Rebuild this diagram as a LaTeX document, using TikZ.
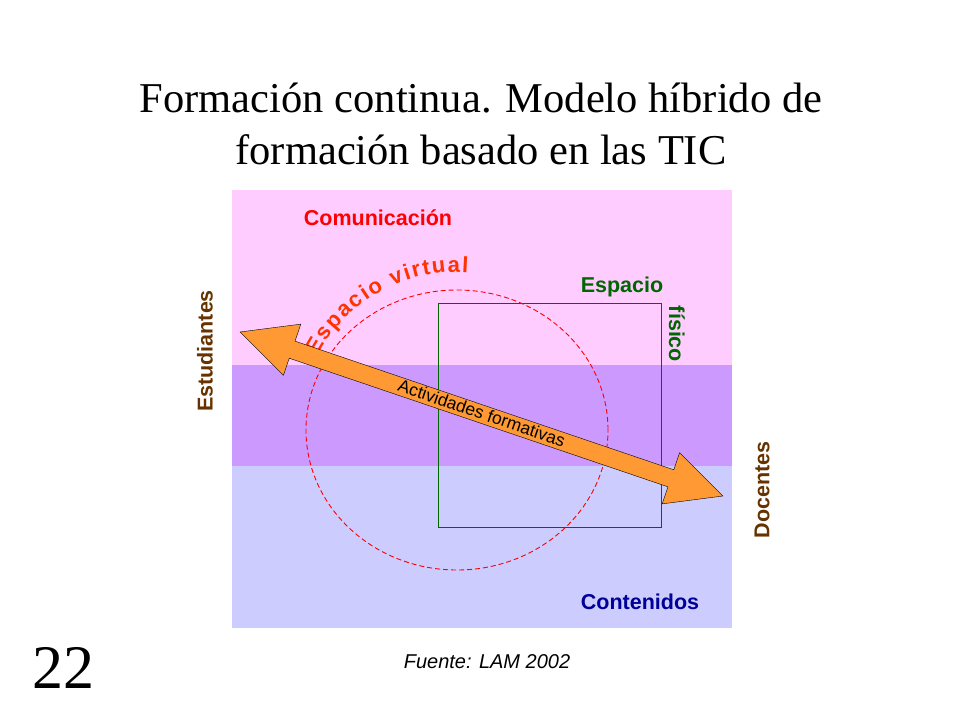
\documentclass[tikz,border=0pt]{standalone}
\usepackage{fontspec}
\setmainfont{Liberation Serif}
\setsansfont{Liberation Sans}
\usetikzlibrary{decorations.text}
\definecolor{pk}{HTML}{FFCCFF}
\definecolor{pu}{HTML}{CC99FF}
\definecolor{bl}{HTML}{CCCCFF}
\definecolor{gr}{HTML}{006600}
\definecolor{br}{HTML}{663300}
\definecolor{db}{HTML}{000099}
\definecolor{vr}{HTML}{FF3300}
\definecolor{ar}{HTML}{FF9933}
\tikzset{lab/.style={font=\sffamily\bfseries\fontsize{21.5}{24}\selectfont, inner sep=0pt}}
\begin{document}
\begin{tikzpicture}[x=1pt,y=1pt]
\useasboundingbox (0,0) rectangle (960,720);
\fill[pk] (232,530) rectangle (732,355);
\fill[pu] (232,355) rectangle (732,254);
\fill[bl] (232,254) rectangle (732,92);
\node[font=\fontsize{42.5}{52}\selectfont, align=center] (title) at (481,596) {Formación continua. Modelo híbrido de\\formación basado en las TIC};
\node[lab, text=red] (com) at (378,502) {Comunicación};
\node[lab, text=db] (con) at (640,118) {Contenidos};
\node[lab, text=br, rotate=90] (est) at (205,369) {Estudiantes};
\node[lab, text=br, rotate=90] (doc) at (762,230) {Docentes};
\node[lab, text=gr] (ef1) at (622,433) {Espacio};
\node[lab, text=gr, rotate=-90] (ef2) at (677,386) {físico};
\draw[gr] (438,417) rectangle (661,193);
\draw[red, dashed, line width=0.9pt, dash pattern=on 5pt off 3pt] (457,290) ellipse [x radius=151, y radius=140];
\path[decorate, decoration={text along path, text={|\sffamily\bfseries\fontsize{22}{24}\selectfont\color{vr}|Espacio virtual}, text align={fit to path}}]
  (457,290) ++(152:158) arc[start angle=152, end angle=86, radius=158];
\begin{scope}[shift={(481.5,306)}, rotate=-18.76]
\draw[fill=ar, line join=miter] (-255,0) -- (-200,27) -- (-200,9) -- (200,9) -- (200,27) -- (255,0) -- (200,-27) -- (200,-9) -- (-200,-9) -- (-200,-27) -- cycle;
\node[font=\sffamily\fontsize{17.5}{19}\selectfont, inner sep=0pt, rotate=-18.76] (act) at (0,1) {Actividades formativas};
\end{scope}
\node[font=\fontsize{62}{68}\selectfont] (num) at (63,52) {22};
\node[font=\sffamily\itshape\fontsize{20}{22}\selectfont] (src) at (487,58) {Fuente: LAM 2002};
\end{tikzpicture}
\end{document}
